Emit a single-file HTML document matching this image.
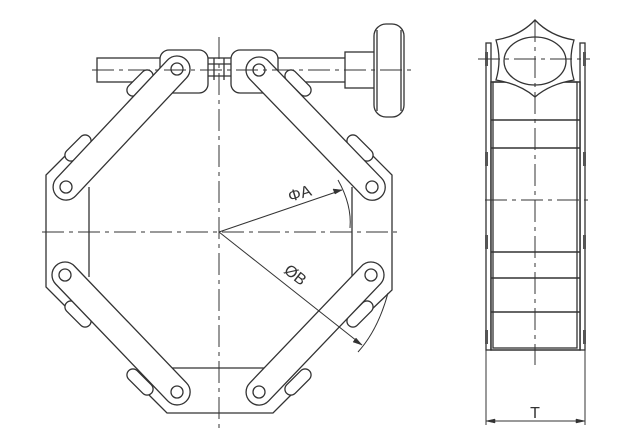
<!DOCTYPE html>
<html><head><style>html,body{margin:0;padding:0;background:#fff}svg{display:block}</style></head>
<body>
<svg width="624" height="446" viewBox="0 0 624 446" xmlns="http://www.w3.org/2000/svg" fill="none" stroke="#333" stroke-width="1.3">
<!-- top rod -->
<rect x="97" y="58" width="250" height="24" fill="#fff"/>
<line x1="207" y1="64" x2="231" y2="64"/><line x1="207" y1="76" x2="231" y2="76"/>
<line x1="214" y1="58" x2="214" y2="82"/><line x1="224" y1="58" x2="224" y2="82"/>
<!-- knob -->
<rect x="345" y="52" width="32" height="36" fill="#fff"/>
<rect x="374" y="24" width="30" height="93" rx="12" fill="#fff"/>
<line x1="377" y1="30" x2="377" y2="111"/><line x1="401" y1="30" x2="401" y2="111"/>
<!-- body -->
<polygon points="160,80 46,175 46,287 167,413 273,413 392,290 392,175 278,80" fill="#fff" stroke="none"/>
<polyline points="70,151 46,175 46,287 70,311"/>
<polyline points="368,151 392,175 392,290 368,313"/>
<polyline points="143,389 167,413 273,413 297,389"/>
<line x1="89" y1="187" x2="89" y2="277"/>
<line x1="352" y1="187" x2="352" y2="277"/>
<line x1="145" y1="368" x2="292" y2="368"/>
<!-- tabs -->
<g fill="#fff">
<rect x="-16" y="-6" width="32" height="12" rx="6" transform="translate(78,148) rotate(-45)"/>
<rect x="-16" y="-6" width="32" height="12" rx="6" transform="translate(360,148) rotate(45)"/>
<rect x="-16" y="-6" width="32" height="12" rx="6" transform="translate(78,314) rotate(45)"/>
<rect x="-16" y="-6" width="32" height="12" rx="6" transform="translate(360,314) rotate(-45)"/>
<rect x="-16" y="-6" width="32" height="12" rx="6" transform="translate(140,382) rotate(45)"/>
<rect x="-16" y="-6" width="32" height="12" rx="6" transform="translate(298,382) rotate(-45)"/>
<rect x="-16" y="-6" width="32" height="12" rx="6" transform="translate(140,83) rotate(-45)"/>
<rect x="-16" y="-6" width="32" height="12" rx="6" transform="translate(298,83) rotate(45)"/>
</g>
<!-- hinge blocks -->
<rect x="160" y="50" width="48" height="43" rx="9" fill="#fff"/>
<rect x="231" y="50" width="47" height="43" rx="9" fill="#fff"/>
<!-- links -->
<g fill="#fff">
<rect x="-13" y="-13" width="188" height="26" rx="13" transform="translate(177,69) rotate(133.2)"/>
<rect x="-13" y="-13" width="189" height="26" rx="13" transform="translate(259,70) rotate(46)"/>
<rect x="-13" y="-13" width="188" height="26" rx="13" transform="translate(65,275) rotate(46.2)"/>
<rect x="-13" y="-13" width="188" height="26" rx="13" transform="translate(371,275) rotate(133.7)"/>
</g>
<g fill="#fff">
<circle cx="177" cy="69" r="6"/><circle cx="259" cy="70" r="6"/>
<circle cx="66" cy="187" r="6"/><circle cx="372" cy="187" r="6"/>
<circle cx="65" cy="275" r="6"/><circle cx="371" cy="275" r="6"/>
<circle cx="177" cy="392" r="6"/><circle cx="259" cy="392" r="6"/>
</g>
<!-- centerlines -->
<g stroke-width="1" stroke-dasharray="22,5,4,5">
<line x1="219" y1="37" x2="219" y2="432"/>
<line x1="42" y1="232" x2="400" y2="232"/>
<line x1="92" y1="70" x2="415" y2="70"/>
</g>
<!-- dimensions -->
<g stroke-width="1">
<line x1="219" y1="232" x2="342" y2="190"/>
<path d="M338,180 Q352,205 350,228"/>
<line x1="219" y1="232" x2="362" y2="345"/>
<path d="M388,293 Q378,330 358,352"/>
</g>
<path d="M342,190 L333,189 L335,194 Z" fill="#333" stroke-width="0.5"/>
<path d="M362,345 L353,342 L356,338 Z" fill="#333" stroke-width="0.5"/>
<text x="0" y="0" font-family="Liberation Sans, sans-serif" font-size="16" fill="#333" stroke="none" transform="translate(290,202) rotate(-17)">ΦA</text>
<text x="0" y="0" font-family="Liberation Sans, sans-serif" font-size="16" fill="#333" stroke="none" transform="translate(283,272) rotate(38)">ØB</text>
<!-- side view -->
<rect x="486" y="43" width="5" height="307" fill="#fff"/>
<rect x="580" y="43" width="5" height="307" fill="#fff"/>
<rect x="491" y="82" width="89" height="268" fill="#fff" stroke-width="1.5"/>
<rect x="493" y="82" width="84" height="266"/>
<g stroke-width="1.4">
<line x1="491" y1="120" x2="580" y2="120"/><line x1="491" y1="148" x2="580" y2="148"/>
<line x1="491" y1="252" x2="580" y2="252"/><line x1="491" y1="278" x2="580" y2="278"/>
<line x1="491" y1="312" x2="580" y2="312"/>
</g>
<path d="M535,20 Q550,36 574,40 Q568,60 574,80 Q550,84 535,97 Q520,84 496,80 Q502,60 496,40 Q520,36 535,20 Z" fill="#fff"/>
<ellipse cx="535" cy="61" rx="31" ry="24"/>
<g fill="#555" stroke="none">
<rect x="485" y="52" width="3" height="14"/><rect x="583" y="52" width="3" height="14"/>
<rect x="485" y="152" width="3" height="14"/><rect x="583" y="152" width="3" height="14"/>
<rect x="485" y="235" width="3" height="14"/><rect x="583" y="235" width="3" height="14"/>
<rect x="485" y="330" width="3" height="14"/><rect x="583" y="330" width="3" height="14"/>
</g>
<g stroke-width="1" stroke-dasharray="22,5,4,5">
<line x1="535" y1="20" x2="535" y2="365"/>
<line x1="478" y1="59" x2="590" y2="59"/>
<line x1="485" y1="200" x2="588" y2="200"/>
</g>
<g stroke-width="1">
<line x1="486" y1="350" x2="486" y2="425"/><line x1="585" y1="350" x2="585" y2="425"/>
<line x1="486" y1="421" x2="585" y2="421"/>
</g>
<path d="M486,421 L495,419 L495,423 Z M585,421 L576,419 L576,423 Z" fill="#333" stroke-width="0.5"/>
<text x="535" y="418" text-anchor="middle" font-family="Liberation Sans, sans-serif" font-size="16" fill="#333" stroke="none">T</text>
</svg>
</body></html>
